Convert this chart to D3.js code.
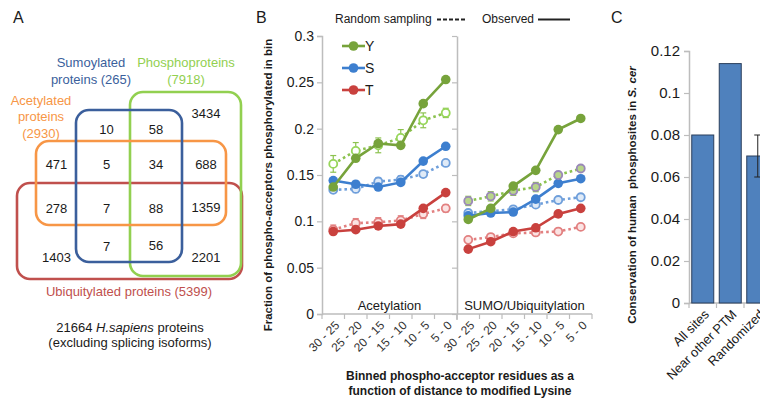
<!DOCTYPE html>
<html><head><meta charset="utf-8">
<script src="https://cdn.jsdelivr.net/npm/d3@7"></script>
<style>
html,body{margin:0;padding:0;background:#fff;}
text{font-family:"Liberation Sans",Arial,sans-serif;}
</style></head>
<body>
<svg id="c" width="760" height="403"></svg>
<script>
// ---------- Panel A data (Venn region counts) ----------
const vennSets = ["Sumoylated proteins (265)", "Phosphoproteins (7918)", "Acetylated proteins (2930)", "Ubiquitylated proteins (5399)"];
const vennCounts = [3434, 10, 58, 471, 5, 34, 688, 278, 7, 88, 1359, 7, 56, 1403, 2201];
const vennNote = ["21664 ", "H.sapiens", " proteins", "(excluding splicing isoforms)"];

// ---------- Panel B data ----------
const bins = ["30 - 25", "25 - 20", "20 - 15", "15 - 10", "10 - 5", "5 - 0"];
const panelsB = ["Acetylation", "SUMO/Ubiquitylation"];
const residues = ["Y", "S", "T"];
// Acetylation
const acY_obs  = [0.137, 0.168, 0.184, 0.182, 0.227, 0.253];
const acY_rand = [0.162, 0.176, 0.182, 0.190, 0.209, 0.217];
const acY_err  = [0.009, 0.009, 0.008, 0.009, 0.008, 0.005];
const acS_obs  = [0.144, 0.140, 0.137, 0.142, 0.165, 0.181];
const acS_rand = [0.134, 0.135, 0.143, 0.145, 0.151, 0.163];
const acS_err  = [0.003, 0.004, 0.004, 0.004, 0.003, 0.003];
const acT_obs  = [0.089, 0.091, 0.095, 0.097, 0.114, 0.131];
const acT_rand = [0.091, 0.098, 0.099, 0.101, 0.108, 0.114];
const acT_err  = [0.005, 0.005, 0.005, 0.005, 0.005, 0.004];
// SUMO/Ubiquitylation
const suY_obs  = [0.102, 0.114, 0.138, 0.155, 0.199, 0.211];
const suY_rand = [0.122, 0.127, 0.133, 0.137, 0.150, 0.157];
const suY_err  = [0.005, 0.005, 0.005, 0.005, 0.003, 0.003];
const suS_obs  = [0.106, 0.109, 0.110, 0.124, 0.141, 0.146];
const suS_rand = [0.109, 0.111, 0.113, 0.118, 0.123, 0.126];
const suS_err  = [0.003, 0.003, 0.003, 0.003, 0.003, 0.003];
const suT_obs  = [0.070, 0.078, 0.089, 0.093, 0.108, 0.114];
const suT_rand = [0.080, 0.083, 0.087, 0.088, 0.089, 0.094];
const suT_err  = [0.002, 0.002, 0.002, 0.002, 0.002, 0.002];
const yTicksB = [0, 0.05, 0.1, 0.15, 0.2, 0.25, 0.3];
const yTickLabelsB = ["0", "0.05", "0.1", "0.15", "0.2", "0.25", "0.3"];

// ---------- Panel C data ----------
const catsC = ["All sites", "Near other PTM", "Randomized"];
const valsC = [0.080, 0.114, 0.070];
const errC  = [null, null, 0.010];
const yTicksC = [0, 0.02, 0.04, 0.06, 0.08, 0.1, 0.12];
const yTickLabelsC = ["0", "0.02", "0.04", "0.06", "0.08", "0.1", "0.12"];

const svg = d3.select("#c");
svg.append("rect").attr("width", 760).attr("height", 403).attr("fill", "#fff");

const axisGray = "#bdbdbd";
const txt = "#1a1a1a";

// panel letters
[["A", 13, 23], ["B", 256, 23], ["C", 611, 23]].forEach(([t, x, y]) =>
  svg.append("text").attr("x", x).attr("y", y).attr("font-size", 16).attr("fill", txt).text(t));

// ================= Panel A =================
const A = svg.append("g");
const rects = [
  {set: 3, x0: 17,  y0: 183, x1: 242, y1: 279, c: "#c0504d"},
  {set: 1, x0: 130, y0: 92,  x1: 241, y1: 276, c: "#92d050"},
  {set: 2, x0: 36,  y0: 141, x1: 226, y1: 225, c: "#f79646"},
  {set: 0, x0: 76,  y0: 110, x1: 182, y1: 262, c: "#3b5f9c"}
];
A.selectAll("rect.v").data(rects).join("rect")
  .attr("x", d => d.x0).attr("y", d => d.y0)
  .attr("width", d => d.x1 - d.x0).attr("height", d => d.y1 - d.y0)
  .attr("rx", 13).attr("fill", "none").attr("stroke", d => d.c).attr("stroke-width", 2.6);

const colA = [56.5, 106.5, 156, 206];
const cellPos = [
  [3, 113], [1, 129], [2, 129],
  [0, 164], [1, 164], [2, 164], [3, 164],
  [0, 208], [1, 208], [2, 208], [3, 207],
  [1, 246], [2, 245],
  [0, 257], [3, 257]
];
A.selectAll("text.n").data(vennCounts).join("text")
  .attr("x", (d, i) => colA[cellPos[i][0]]).attr("y", (d, i) => cellPos[i][1] + 5)
  .attr("text-anchor", "middle").attr("font-size", 13).attr("fill", txt).text(d => d);

function labelLines(lines, x, ys, color) {
  lines.forEach((l, i) => A.append("text").attr("x", x).attr("y", ys[i] + 5)
    .attr("text-anchor", "middle").attr("font-size", 13).attr("fill", color).text(l));
}
labelLines(["Sumoylated", "proteins (265)"], 91, [62, 79], "#3b5f9c");
labelLines(["Phosphoproteins", "(7918)"], 186, [62, 79], "#92d050");
labelLines(["Acetylated", "proteins", "(2930)"], 41, [100, 116, 133], "#f79646");
labelLines(["Ubiquitylated proteins (5399)"], 129, [291], "#c0504d");
const note = A.append("text").attr("x", 130).attr("y", 332).attr("text-anchor", "middle")
  .attr("font-size", 13).attr("fill", txt);
note.append("tspan").text(vennNote[0]);
note.append("tspan").attr("font-style", "italic").text(vennNote[1]);
note.append("tspan").text(vennNote[2]);
A.append("text").attr("x", 130).attr("y", 347).attr("text-anchor", "middle")
  .attr("font-size", 13).attr("fill", txt).text(vennNote[3]);

// ================= Panel B =================
const B = svg.append("g");
const keys = [];
panelsB.forEach(p => bins.forEach(b => keys.push(p + "|" + b)));
const xB = d3.scaleBand().domain(keys).range([322, 592]);
const yB = d3.scaleLinear().domain([0, 0.3]).range([314, 36]);

// y axis
const yAxB = B.append("g").attr("transform", "translate(322,0)")
  .call(d3.axisLeft(yB).tickValues(yTicksB).tickFormat((d, i) => yTickLabelsB[i]).tickSize(5).tickPadding(3));
yAxB.select(".domain").attr("stroke", axisGray).attr("stroke-width", 1.5);
yAxB.selectAll(".tick line").attr("stroke", axisGray).attr("stroke-width", 1.2);
yAxB.selectAll(".tick text").attr("font-size", 14).attr("fill", txt).attr("font-family", "Liberation Sans, Arial, sans-serif");

// divider with ticks
const divX = xB(keys[6]);
const divAx = B.append("g").attr("transform", `translate(${divX},0)`)
  .call(d3.axisLeft(yB).tickValues(yTicksB).tickFormat("").tickSize(5).tickSizeOuter(0));
divAx.select(".domain").attr("stroke", axisGray).attr("stroke-width", 1.5);
divAx.selectAll(".tick line").attr("stroke", axisGray).attr("stroke-width", 1.2);
B.append("line").attr("x1", divX).attr("x2", divX).attr("y1", yB(0)).attr("y2", yB(0) + 6)
  .attr("stroke", axisGray).attr("stroke-width", 1.5);

// x axis
B.append("line").attr("x1", 322).attr("x2", 592).attr("y1", yB(0)).attr("y2", yB(0))
  .attr("stroke", axisGray).attr("stroke-width", 1.5);
B.selectAll("line.xt").data(keys.concat(["end"])).join("line")
  .attr("x1", (d, i) => i < keys.length ? xB(d) : 592)
  .attr("x2", (d, i) => i < keys.length ? xB(d) : 592)
  .attr("y1", yB(0)).attr("y2", yB(0) + 5)
  .attr("stroke", axisGray).attr("stroke-width", 1.2);
B.selectAll("text.xl").data(keys).join("text")
  .attr("transform", d => `translate(${xB(d) + xB.bandwidth() / 2 + 4},${yB(0) + 9}) rotate(-45)`)
  .attr("text-anchor", "end").attr("dy", "0.35em").attr("font-size", 12).attr("fill", "#333")
  .text(d => d.split("|")[1]);

// panel names
panelsB.forEach((p, i) => {
  const cx = (xB(p + "|" + bins[0]) + xB(p + "|" + bins[5]) + xB.bandwidth()) / 2;
  B.append("text").attr("x", cx).attr("y", 310).attr("text-anchor", "middle")
    .attr("font-size", 13).attr("fill", txt).text(p);
});

const colObs = {Y: "#77a33b", S: "#3d7fcf", T: "#c9413e"};
const randStyle = [
  {Y: {s: "#97d65a", f: "#ffffff"}, S: {s: "#6f9fdb", f: "#dfeaf7"}, T: {s: "#e28080", f: "#fbe3e3"}},
  {Y: {s: "#9a88b8", f: "#b8d58a"}, S: {s: "#6f9fdb", f: "#dfeaf7"}, T: {s: "#e28080", f: "#fbe3e3"}}
];
const dataB = [
  {Y: [acY_obs, acY_rand, acY_err], S: [acS_obs, acS_rand, acS_err], T: [acT_obs, acT_rand, acT_err]},
  {Y: [suY_obs, suY_rand, suY_err], S: [suS_obs, suS_rand, suS_err], T: [suT_obs, suT_rand, suT_err]}
];
const line = d3.line().x(d => d[0]).y(d => d[1]);
// draw order: T, S, Y (random then observed)
["T", "S", "Y"].forEach(r => {
  panelsB.forEach((p, pi) => {
    const [obs, rand, err] = dataB[pi][r];
    const xs = bins.map(b => xB(p + "|" + b) + xB.bandwidth() / 2);
    const st = randStyle[pi][r];
    // random error bars
    rand.forEach((v, i) => {
      const g = B.append("g").attr("stroke", r === "Y" ? "#8cc24f" : st.s).attr("stroke-width", 1.2);
      g.append("line").attr("x1", xs[i]).attr("x2", xs[i]).attr("y1", yB(v - err[i])).attr("y2", yB(v + err[i]));
      [v - err[i], v + err[i]].forEach(e => g.append("line").attr("x1", xs[i] - 3).attr("x2", xs[i] + 3)
        .attr("y1", yB(e)).attr("y2", yB(e)));
    });
    // random dotted line
    B.append("path").attr("d", line(rand.map((v, i) => [xs[i], yB(v)])))
      .attr("fill", "none").attr("stroke", r === "Y" ? "#8cc24f" : st.s).attr("stroke-width", 2.6)
      .attr("stroke-dasharray", "2.6,3");
    B.selectAll(null).data(rand).join("circle")
      .attr("cx", (d, i) => xs[i]).attr("cy", d => yB(d)).attr("r", 4)
      .attr("fill", st.f).attr("stroke", st.s).attr("stroke-width", 1.8);
    // observed
    B.append("path").attr("d", line(obs.map((v, i) => [xs[i], yB(v)])))
      .attr("fill", "none").attr("stroke", colObs[r]).attr("stroke-width", 2.6);
    B.selectAll(null).data(obs).join("circle")
      .attr("cx", (d, i) => xs[i]).attr("cy", d => yB(d)).attr("r", 4.8).attr("fill", colObs[r]);
  });
});

// residue legend
residues.forEach((r, i) => {
  const y = 46 + i * 22;
  B.append("line").attr("x1", 342).attr("x2", 365).attr("y1", y).attr("y2", y)
    .attr("stroke", colObs[r]).attr("stroke-width", 2.6);
  B.append("circle").attr("cx", 353.5).attr("cy", y).attr("r", 4.8).attr("fill", colObs[r]);
  B.append("text").attr("x", 365).attr("y", y + 5).attr("font-size", 14).attr("fill", txt).text(r);
});
// top legend
B.append("text").attr("x", 335).attr("y", 23).attr("font-size", 12).attr("fill", txt).text("Random sampling");
B.append("line").attr("x1", 437).attr("x2", 466).attr("y1", 19.5).attr("y2", 19.5)
  .attr("stroke", "#222").attr("stroke-width", 2).attr("stroke-dasharray", "4,2");
B.append("text").attr("x", 482).attr("y", 23).attr("font-size", 12).attr("fill", txt).text("Observed");
B.append("line").attr("x1", 538).attr("x2", 570).attr("y1", 19.5).attr("y2", 19.5)
  .attr("stroke", "#222").attr("stroke-width", 2);

// axis titles
B.append("text").attr("transform", "translate(272,185) rotate(-90)").attr("text-anchor", "middle")
  .attr("font-size", 11.5).attr("font-weight", "bold").attr("fill", txt)
  .text("Fraction of phospho-acceptors phosphorylated in bin");
B.append("text").attr("x", 460).attr("y", 380).attr("text-anchor", "middle")
  .attr("font-size", 12).attr("font-weight", "bold").attr("fill", txt)
  .text("Binned phospho-acceptor residues as a");
B.append("text").attr("x", 460).attr("y", 395).attr("text-anchor", "middle")
  .attr("font-size", 12).attr("font-weight", "bold").attr("fill", txt)
  .text("function of distance to modified Lysine");

// ================= Panel C =================
const C = svg.append("g");
const xC = d3.scaleBand().domain(catsC).range([689, 771.5]).paddingInner(0.2).paddingOuter(0.1);
const yC = d3.scaleLinear().domain([0, 0.12]).range([303, 51]);
const yAxC = C.append("g").attr("transform", "translate(689,0)")
  .call(d3.axisLeft(yC).tickValues(yTicksC).tickFormat((d, i) => yTickLabelsC[i]).tickSize(5).tickPadding(4));
yAxC.select(".domain").attr("stroke", axisGray).attr("stroke-width", 1.5);
yAxC.selectAll(".tick line").attr("stroke", axisGray).attr("stroke-width", 1.2);
yAxC.selectAll(".tick text").attr("font-size", 15).attr("fill", txt).attr("font-family", "Liberation Sans, Arial, sans-serif");
C.append("line").attr("x1", 689).attr("x2", 771.5).attr("y1", yC(0)).attr("y2", yC(0))
  .attr("stroke", axisGray).attr("stroke-width", 1.5);
const stepC = xC.step();
catsC.forEach((c, i) => {
  const tx = 689 + i * (771.5 - 689) / catsC.length;
  C.append("line").attr("x1", tx).attr("x2", tx).attr("y1", yC(0)).attr("y2", yC(0) + 5)
    .attr("stroke", axisGray).attr("stroke-width", 1.2);
});
C.selectAll("rect.b").data(valsC).join("rect")
  .attr("x", (d, i) => xC(catsC[i])).attr("y", d => yC(d))
  .attr("width", xC.bandwidth()).attr("height", d => yC(0) - yC(d))
  .attr("fill", "#4f81bd").attr("stroke", "#2b3f5c").attr("stroke-width", 1);
valsC.forEach((v, i) => {
  if (errC[i] == null) return;
  const cx = xC(catsC[i]) + xC.bandwidth() / 2;
  const g = C.append("g").attr("stroke", "#222").attr("stroke-width", 1);
  g.append("line").attr("x1", cx).attr("x2", cx).attr("y1", yC(v - errC[i])).attr("y2", yC(v + errC[i]));
  [v - errC[i], v + errC[i]].forEach(e => g.append("line").attr("x1", cx - 3.5).attr("x2", cx + 3.5)
    .attr("y1", yC(e)).attr("y2", yC(e)));
});
C.selectAll("text.xl").data(catsC).join("text")
  .attr("transform", d => `translate(${xC(d) + xC.bandwidth() / 2 + 4},${yC(0) + 9}) rotate(-45)`)
  .attr("text-anchor", "end").attr("dy", "0.35em").attr("font-size", 13).attr("fill", txt).text(d => d);
const yl = C.append("text").attr("transform", "translate(636,195) rotate(-90)").attr("text-anchor", "middle")
  .attr("font-size", 11.5).attr("font-weight", "bold").attr("fill", txt).attr("xml:space", "preserve");
yl.append("tspan").text("Conservation of human\u00a0 phosphosites in ");
yl.append("tspan").attr("font-style", "italic").text("S. cer");
</script>
</body></html>
